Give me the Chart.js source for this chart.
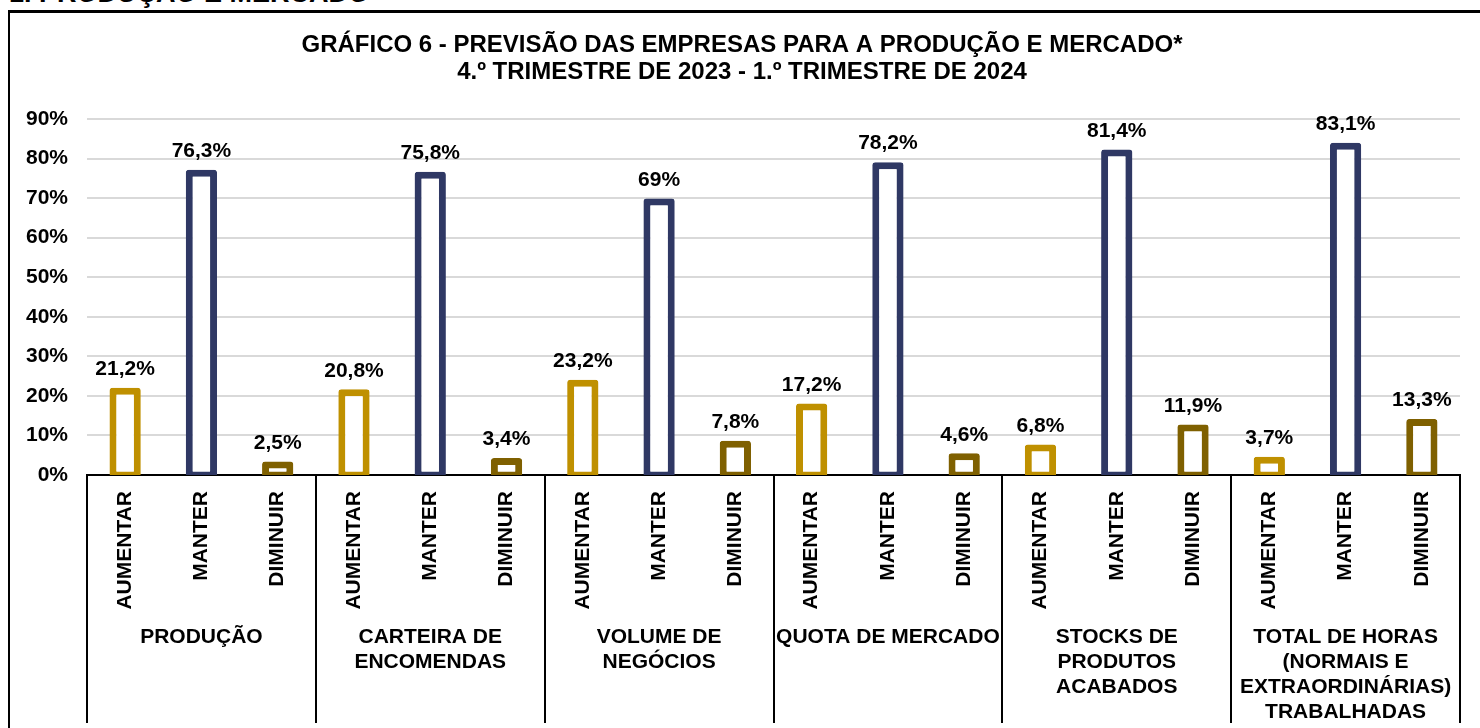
<!DOCTYPE html>
<html lang="pt">
<head>
<meta charset="utf-8">
<title>Gráfico 6 - Previsão das empresas para a produção e mercado</title>
<script src="https://cdn.jsdelivr.net/npm/chart.js@4.4.1/dist/chart.umd.min.js"></script>
<style>
  html, body { margin:0; padding:0; background:#fff; }
  body { width:1480px; height:728px; overflow:hidden; position:relative; font-family:"Liberation Sans", Arial, sans-serif; }
  .section-title { position:absolute; left:9px; top:-22px; margin:0; font-size:27px; font-weight:bold; line-height:30px; color:#000; white-space:nowrap; }
  .frame { position:absolute; left:8px; top:10px; width:1480px; height:730px; border-left:2px solid #000; border-top:3px solid #000; }
  .chart-box { position:absolute; left:0; top:0; width:1480px; height:728px; }
</style>
</head>
<body>
<h2 class="section-title">1. PRODUÇÃO E MERCADO</h2>
<div class="frame"></div>
<div class="chart-box"><canvas id="barChart"></canvas></div>

<script>
// ======== DATA ========
const groups = [
  ['PRODUÇÃO'],
  ['CARTEIRA DE', 'ENCOMENDAS'],
  ['VOLUME DE', 'NEGÓCIOS'],
  ['QUOTA DE MERCADO'],
  ['STOCKS DE', 'PRODUTOS', 'ACABADOS'],
  ['TOTAL DE HORAS', '(NORMAIS E', 'EXTRAORDINÁRIAS)', 'TRABALHADAS']
];
const answers = ['AUMENTAR', 'MANTER', 'DIMINUIR'];
const aumentar = [21.2, 20.8, 23.2, 17.2, 6.8, 3.7];
const manter   = [76.3, 75.8, 69, 78.2, 81.4, 83.1];
const diminuir = [2.5, 3.4, 7.8, 4.6, 11.9, 13.3];
const yTicks = [0, 10, 20, 30, 40, 50, 60, 70, 80, 90];
const titleLines = [
  'GRÁFICO 6 - PREVISÃO DAS EMPRESAS PARA A PRODUÇÃO E MERCADO*',
  '4.º TRIMESTRE DE 2023 - 1.º TRIMESTRE DE 2024'
];

const answerColors = ['#bf9000', '#2f3864', '#7f6000'];
const FONT = '"Liberation Sans", Arial, sans-serif';
const BORDER = 7;
const PAD_LEFT = 24;   // nudges the title centre to the right, like the original

// flatten: 6 groups x 3 answers
const series = [aumentar, manter, diminuir];
const labels = [], values = [], colors = [];
groups.forEach((g, gi) => {
  answers.forEach((a, ai) => {
    labels.push(a);
    values.push(series[ai][gi]);
    colors.push(answerColors[ai]);
  });
});

const fmtPct = v => String(v).replace('.', ',') + '%';

// ======== PLUGINS ========
// Excel draws the outline centred on the bar edge, Chart.js draws it inside:
// grow each bar by half a border so the outline sits like the original
const centredOutline = {
  id: 'centredOutline',
  beforeDatasetsDraw(chart) {
    const y = chart.scales.y;
    chart.getDatasetMeta(0).data.forEach((bar, i) => {
      bar.y = y.getPixelForValue(values[i]) - BORDER / 2;
      bar.base = y.getPixelForValue(0) + BORDER / 2;
    });
  }
};

const valueLabels = {
  id: 'valueLabels',
  afterDatasetsDraw(chart) {
    const ctx = chart.ctx;
    const y = chart.scales.y;
    const meta = chart.getDatasetMeta(0);
    ctx.save();
    ctx.font = `bold 21px ${FONT}`;
    ctx.fillStyle = '#000';
    ctx.textAlign = 'center';
    ctx.textBaseline = 'middle';
    meta.data.forEach((bar, i) => {
      ctx.fillText(fmtPct(values[i]), bar.x, y.getPixelForValue(values[i]) - 22);
    });
    ctx.restore();
  }
};

const groupAxis = {
  id: 'groupAxis',
  afterDraw(chart) {
    const { ctx, chartArea } = chart;
    const x = chart.scales.x;
    const step = x.getPixelForValue(1) - x.getPixelForValue(0);
    const bottom = chart.height - 5;
    ctx.save();
    ctx.strokeStyle = '#000';
    ctx.lineWidth = 2;
    // separators between groups
    for (let g = 0; g <= groups.length; g++) {
      const px = Math.round(x.getPixelForValue(g * 3) - step / 2);
      ctx.beginPath();
      ctx.moveTo(px, chartArea.bottom);
      ctx.lineTo(px, bottom);
      ctx.stroke();
    }
    // group names
    ctx.font = `bold 21px ${FONT}`;
    ctx.fillStyle = '#000';
    ctx.textAlign = 'center';
    ctx.textBaseline = 'middle';
    groups.forEach((lines, g) => {
      const cx = x.getPixelForValue(g * 3 + 1);
      lines.forEach((ln, li) => ctx.fillText(ln, cx, 637 + li * 25));
    });
    ctx.restore();
  }
};

// ======== CHART ========
let barChart;
function renderChart() {
  Chart.defaults.font.family = FONT;
  Chart.defaults.color = '#000';

  barChart = new Chart(document.getElementById('barChart'), {
    type: 'bar',
    data: {
      labels,
      datasets: [{
        data: values,
        backgroundColor: '#fff',
        borderColor: colors,
        borderWidth: BORDER,
        borderSkipped: false,
        borderRadius: 3,
        barPercentage: 0.41,
        categoryPercentage: 1,
        clip: { left: 20, top: 40, right: 20, bottom: 0 }
      }]
    },
    options: {
      responsive: true,
      maintainAspectRatio: false,
      animation: false,
      layout: { padding: { top: 32, right: 20, left: PAD_LEFT, bottom: 0 } },
      plugins: {
        legend: { display: false },
        tooltip: { enabled: false },
        title: {
          display: true,
          text: titleLines,
          color: '#000',
          font: { size: 24, weight: 'bold', lineHeight: 1.125 },
          padding: { top: 0, bottom: 33 }
        }
      },
      scales: {
        y: {
          min: yTicks[0],
          max: yTicks[yTicks.length - 1],
          afterBuildTicks: s => { s.ticks = yTicks.map(v => ({ value: v })); },
          afterFit: s => { s.width = 87 - PAD_LEFT; },
          border: { display: false },
          grid: {
            color: c => c.tick.value === 0 ? 'rgba(0,0,0,0)' : '#d9d9d9',
            lineWidth: 2,
            drawTicks: false
          },
          ticks: {
            padding: 19,
            font: { size: 21, weight: 'bold' },
            callback: v => v + '%'
          }
        },
        x: {
          afterFit: s => { s.height = 253; },
          border: { display: true, color: '#000', width: 2 },
          grid: { display: false },
          ticks: {
            autoSkip: false,
            minRotation: 90,
            maxRotation: 90,
            padding: 8,
            font: { size: 21, weight: 'bold' }
          }
        }
      }
    },
    plugins: [centredOutline, valueLabels, groupAxis]
  });
}

window.addEventListener('DOMContentLoaded', renderChart);
</script>
</body>
</html>
